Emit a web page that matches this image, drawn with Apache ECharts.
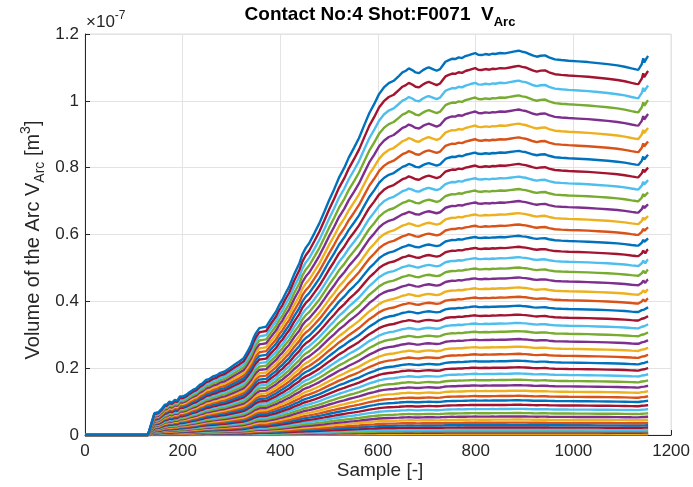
<!DOCTYPE html>
<html>
<head>
<meta charset="utf-8">
<script src="https://cdn.jsdelivr.net/npm/echarts@6/dist/echarts.min.js"></script>
<style>html,body{margin:0;padding:0;background:#fff;}#c{width:693px;height:487px;}</style>
</head>
<body>
<div id="c"></div>
<script>
// Top (envelope) curve: sample index and value (x1e-7 m^3)
const topX = [0,128,131,137,142,146,150,154,158,163,168,173,178,184,189,194,200,207,214,221,228,235,241,248,255,262,269,276,286,296,306,316,325,333,340,345,350,357,364,371,380,391,398,404,411,418,428,439,445,452,459,470,480,490,500,510,520,531,540,551,561,572,582,592,602,612,622,632,643,650,657,663,670,677,684,692,698,704,712,720,727,732,738,745,752,758,765,772,779,786,792,799,805,812,820,828,835,840,850,860,870,880,888,895,902,910,918,925,933,942,950,962,975,990,1010,1030,1050,1070,1090,1105,1119,1128,1133,1137,1140,1143,1145,1147,1149,1151,1153];
const topY = [0,0,0.01,0.04,0.065,0.07,0.068,0.065,0.08,0.09,0.092,0.10,0.097,0.105,0.103,0.115,0.115,0.12,0.128,0.135,0.14,0.15,0.155,0.165,0.168,0.175,0.178,0.185,0.19,0.20,0.21,0.22,0.23,0.25,0.27,0.29,0.305,0.32,0.322,0.324,0.345,0.369,0.39,0.404,0.425,0.444,0.48,0.514,0.54,0.56,0.574,0.605,0.634,0.668,0.703,0.735,0.77,0.80,0.83,0.86,0.889,0.928,0.963,0.99,1.02,1.04,1.053,1.06,1.075,1.085,1.09,1.097,1.092,1.085,1.083,1.092,1.097,1.10,1.095,1.09,1.095,1.105,1.117,1.122,1.126,1.125,1.13,1.128,1.134,1.137,1.14,1.143,1.138,1.137,1.14,1.138,1.141,1.14,1.143,1.142,1.145,1.148,1.15,1.147,1.145,1.14,1.135,1.132,1.135,1.136,1.13,1.124,1.122,1.12,1.118,1.116,1.113,1.11,1.106,1.102,1.097,1.094,1.093,1.098,1.11,1.127,1.115,1.11,1.118,1.13,1.134];
// Plateau level of each line near sample 1100 (bottom line first)
const levels = [0.0005,0.0018,0.004,0.007,0.011,0.016,0.022,0.029,0.036,0.045,0.054,0.064,0.076,0.088,0.101,0.114,0.129,0.145,0.161,0.179,0.197,0.216,0.236,0.257,0.279,0.302,0.326,0.350,0.376,0.402,0.429,0.458,0.487,0.517,0.547,0.579,0.612,0.645,0.680,0.715,0.751,0.788,0.826,0.865,0.905,0.946,0.987,1.030,1.073,1.117];
const xTicks = [0,200,400,600,800,1000,1200];
const yTicks = [0,0.2,0.4,0.6,0.8,1,1.2];
const palette = ['#0072BD','#D95319','#EDB120','#7E2F8E','#77AC30','#4DBEEE','#A2142F'];

const topLevel = levels[levels.length-1];
const series = levels.map((lv, i) => ({
  type: 'line',
  showSymbol: false,
  animation: false,
  silent: true,
  lineStyle: { width: 2.4, color: palette[i % 7] },
  itemStyle: { color: palette[i % 7] },
  data: topX.map((x, j) => [x, topY[j] * lv / topLevel])
}));

const chart = echarts.init(document.getElementById('c'));
const font = 'Liberation Sans, Arial, Helvetica, sans-serif';
chart.setOption({
  backgroundColor: '#fff',
  animation: false,
  grid: { left: 85, right: 20, top: 34, bottom: 52, show: true, borderColor: '#dcdcdc', borderWidth: 1 },
  xAxis: {
    type: 'value', min: xTicks[0], max: xTicks[xTicks.length-1], interval: 200,
    axisLine: { show: true, onZero: false, lineStyle: { color: '#262626', width: 1 } },
    axisTick: { show: true, inside: true, length: 5, lineStyle: { color: '#262626' } },
    axisLabel: { color: '#262626', fontSize: 17, fontFamily: font, margin: 8, formatter: v => String(v) },
    splitLine: { show: true, lineStyle: { color: '#e3e3e3', width: 1 } }
  },
  yAxis: {
    type: 'value', min: yTicks[0], max: yTicks[yTicks.length-1], interval: 0.2,
    axisLine: { show: true, onZero: false, lineStyle: { color: '#262626', width: 1 } },
    axisTick: { show: true, inside: true, length: 5, lineStyle: { color: '#262626' } },
    axisLabel: { color: '#262626', fontSize: 17, fontFamily: font, margin: 6,
      formatter: v => String(Math.round(v * 10) / 10) },
    splitLine: { show: true, lineStyle: { color: '#e3e3e3', width: 1 } }
  },
  graphic: [
    { type: 'text', x: 380, y: 15, z: 10,
      style: { text: '{b|Contact No:4 Shot:F0071  V}{s|Arc}', align: 'center', verticalAlign: 'middle',
        rich: { b: { fontSize: 19, fontWeight: 'bold', fontFamily: font, fill: '#000' },
                s: { fontSize: 13, fontWeight: 'bold', fontFamily: font, fill: '#000', padding: [14,0,0,0] } } } },
    { type: 'text', left: 86, top: 10, z: 10,
      style: { text: '{a|×10}{p|-7}',
        rich: { a: { fontSize: 17, fontFamily: font, fill: '#262626' },
                p: { fontSize: 12, fontFamily: font, fill: '#262626', padding: [0,0,12,0] } } } },
    { type: 'text', x: 33, y: 240, rotation: Math.PI / 2, z: 10,
      style: { text: '{a|Volume of the Arc V}{s|Arc}{a| [m}{p|3}{a|]}', align: 'center', verticalAlign: 'middle',
        rich: { a: { fontSize: 20, fontFamily: font, fill: '#262626' },
                s: { fontSize: 14, fontFamily: font, fill: '#262626', padding: [14,0,0,0] },
                p: { fontSize: 14, fontFamily: font, fill: '#262626', padding: [0,0,14,0] } } } },
    { type: 'text', x: 380, y: 471, z: 10,
      style: { text: 'Sample [-]', align: 'center', verticalAlign: 'middle', fontSize: 19, fontFamily: font, fill: '#262626' } }
  ],
  series: series
});
</script>
</body>
</html>
